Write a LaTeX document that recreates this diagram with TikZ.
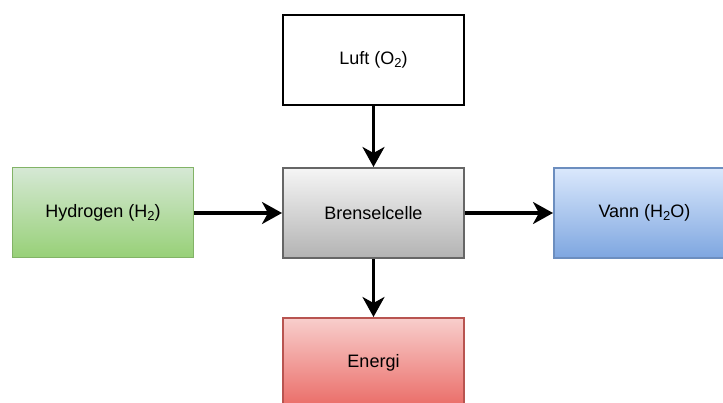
\documentclass[tikz,border=0pt]{standalone}
\usepackage{fontspec}
\setmainfont{Liberation Sans}
\usepackage{xcolor}
\usetikzlibrary{arrows.meta,positioning}
\definecolor{GreenTop}{HTML}{D5E8D4}
\definecolor{GreenBot}{HTML}{97D077}
\definecolor{GreenLine}{HTML}{82B366}
\definecolor{GrayTop}{HTML}{F5F5F5}
\definecolor{GrayBot}{HTML}{B3B3B3}
\definecolor{GrayLine}{HTML}{666666}
\definecolor{BlueTop}{HTML}{DAE8FC}
\definecolor{BlueBot}{HTML}{7EA6E0}
\definecolor{BlueLine}{HTML}{6C8EBF}
\definecolor{RedTop}{HTML}{F8CECC}
\definecolor{RedBot}{HTML}{EA6B66}
\definecolor{RedLine}{HTML}{B85450}
\newcommand{\chemsub}[1]{\raisebox{-0.35ex}{\fontsize{13}{13}\selectfont #1}}
\tikzset{
  box/.style={align=center, minimum width=181pt, minimum height=90pt, inner sep=0pt, font=\fontsize{18}{20}\selectfont},
  whitebox/.style={box, draw=black, fill=white, line width=2.2pt},
  greenbox/.style={box, draw=GreenLine, top color=GreenTop, bottom color=GreenBot, line width=1pt},
  graybox/.style={box, draw=GrayLine, top color=GrayTop, bottom color=GrayBot, line width=2pt},
  bluebox/.style={box, draw=BlueLine, top color=BlueTop, bottom color=BlueBot, line width=2pt},
  redbox/.style={box, draw=RedLine, top color=RedTop, bottom color=RedBot, line width=2pt},
  arrow/.style={-{Stealth[length=20pt, width=22pt, inset=6pt]}, line width=3.2pt, draw=black}
}
\begin{document}
\begin{tikzpicture}[x=1pt, y=-1pt]
    \useasboundingbox (0,0) rectangle (723,403);
    \node[graybox] (brensel) at (373.5,213) {Brenselcelle};
    \node[whitebox, above=61pt of brensel] (luft) {Luft (O\chemsub{2})};
    \node[greenbox, left=88pt of brensel] (hydrogen) {Hydrogen (H\chemsub{2})};
    \node[bluebox, right=88pt of brensel] (vann) {Vann (H\chemsub{2}O)};
    \node[redbox, below=58pt of brensel] (energi) {Energi};

    \draw[arrow] (luft) -- (brensel);
    \draw[arrow] (hydrogen) -- (brensel);
    \draw[arrow] (brensel) -- (vann);
    \draw[arrow] (brensel) -- (energi);
\end{tikzpicture}
\end{document}
